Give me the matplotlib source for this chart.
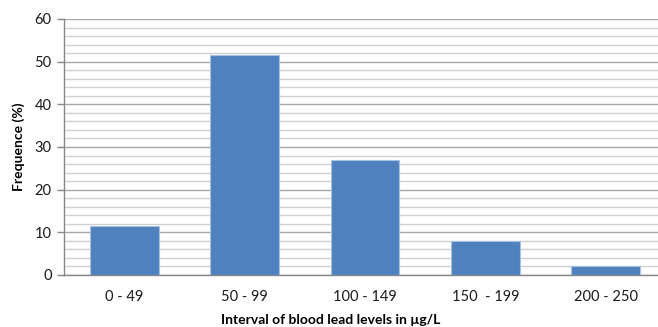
"""Bar chart: distribution of blood lead levels by interval."""

import matplotlib.pyplot as plt
import numpy as np
from matplotlib.ticker import MultipleLocator

intervals = ["0 - 49", "50 - 99", "100 - 149", "150  - 199", "200 - 250"]
frequence = [11.5, 51.5, 27.0, 8.0, 2.0]

plt.rcParams["font.family"] = ["Lato", "DejaVu Sans"]

fig = plt.figure(figsize=(6.58, 3.27), dpi=100)
ax = fig.add_axes([64 / 658, 1 - 275 / 327, 602 / 658, 256 / 327])

x = np.arange(len(intervals))
ax.bar(x, frequence, width=0.57, color="#4F81BD", edgecolor="#A7C1E3",
       linewidth=0.8, zorder=3)

ax.set_xlim(-0.5, len(intervals) - 0.5)
ax.set_ylim(0, 60)
ax.yaxis.set_major_locator(MultipleLocator(10))
ax.yaxis.set_minor_locator(MultipleLocator(2))
ax.grid(axis="y", which="major", color="#A6A6A6", linewidth=1.0, zorder=0)
ax.grid(axis="y", which="minor", color="#D0D0D0", linewidth=1.0, zorder=0)

ax.set_xticks(x)
ax.set_xticklabels(intervals)
ax.tick_params(axis="x", length=0, pad=11, labelsize=10.5, colors="#1a1a1a")
ax.tick_params(axis="y", which="major", length=5, width=1, color="#868686",
               labelsize=10.5, pad=4, labelcolor="#1a1a1a")
ax.tick_params(axis="y", which="minor", length=0)

for side in ("top", "right"):
    ax.spines[side].set_visible(False)
for side in ("left", "bottom"):
    ax.spines[side].set_color("#868686")
    ax.spines[side].set_linewidth(1.0)

ax.set_ylabel("Frequence (%)", fontsize=10, fontweight="bold")
ax.set_xlabel("Interval of blood lead levels in \u00b5g/L", fontsize=10,
              fontweight="bold")
ax.yaxis.set_label_coords(-(64 - 25) / 602, 0.5)
ax.xaxis.set_label_coords((331 - 64) / 602, -(314 - 275) / 256)

fig.savefig("out.png", dpi=100)
